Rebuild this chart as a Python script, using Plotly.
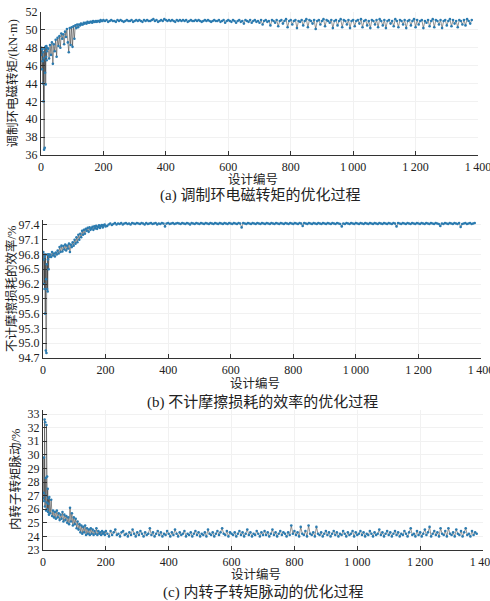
import plotly.graph_objects as go

# design numbers (sampling of the design index)
x_early = list(range(1, 21))
x_mid = list(range(23, 201, 3))
x_late = list(range(205, 1381, 5))
design_no = x_early + x_mid + x_late

# (a) modulating-ring electromagnetic torque, kN·m
torque_early = [47.2, 48.0, 45.6, 47.8, 46.5, 44.0, 47.5, 42.0, 46.8, 36.6,
                47.9, 36.8, 45.2, 48.1, 43.9, 47.0, 48.2, 46.6, 47.6, 48.0]
torque_mid = [47.9, 46.8, 48.3, 47.2, 48.6, 46.2, 48.4, 47.6, 48.9, 47.0,
              49.1, 48.2, 49.3, 48.0, 49.6, 49.0, 49.5, 48.4, 49.8, 49.2,
              50.1, 48.6, 47.5, 50.2, 48.3, 50.3, 48.1, 50.4, 49.0, 50.5,
              50.2, 50.6, 50.3, 50.6, 50.5, 50.7, 50.6, 50.6, 50.8, 50.7,
              50.8, 50.7, 50.9, 50.8, 50.8, 50.9, 50.9, 50.8, 51.0, 50.9,
              50.9, 51.0, 50.9, 51.0, 51.0, 50.9, 51.1, 51.0, 51.0, 51.1]
torque_late = [
    51.0, 51.1, 50.9, 51.0, 51.1, 51.0, 51.0, 50.9, 51.1, 51.0, 51.1, 51.0, 50.9, 51.0, 51.1, 51.0, 51.0, 51.1, 50.9, 51.0,
    51.1, 51.0, 51.1, 51.0, 50.9, 51.1, 51.0, 51.1, 51.0, 51.0, 51.1, 51.2, 51.0, 51.1, 50.9, 51.0, 51.1, 51.0, 51.2, 51.1,
    51.0, 51.1, 51.0, 51.1, 51.0, 50.9, 51.1, 51.0, 51.1, 51.0, 51.1, 51.0, 51.1, 50.9, 51.0, 51.1, 51.0, 51.0, 51.1, 51.0,
    51.1, 51.0, 50.9, 51.0, 51.1, 51.0, 51.1, 51.0, 50.9, 51.0, 51.1, 51.0, 51.0, 51.1, 50.9, 51.0, 51.1, 50.8, 51.0, 51.1,
    51.0, 50.9, 51.1, 51.0, 50.8, 51.0, 51.1, 50.9, 51.0, 50.7, 51.1, 51.0, 50.9, 51.1, 50.8, 51.0, 51.1, 50.9, 51.0, 50.8,
    51.1, 50.6, 51.0, 51.1, 50.9, 51.0, 50.5, 51.1, 51.0, 50.8, 51.1, 50.4, 51.0, 51.1, 50.7, 51.0, 51.2, 50.3, 51.0, 51.1,
    50.6, 51.0, 51.1, 50.2, 51.0, 50.9, 51.1, 50.5, 51.0, 51.2, 50.3, 51.1, 51.0, 50.7, 51.1, 50.1, 51.0, 51.1, 50.6, 51.0,
    51.2, 50.4, 51.1, 51.0, 50.8, 51.1, 50.2, 51.0, 51.1, 50.5, 51.0, 51.2, 50.3, 51.1, 51.0, 50.6, 51.1, 50.2, 51.0, 51.1,
    50.4, 51.0, 51.1, 50.7, 51.2, 50.3, 51.0, 51.1, 50.5, 51.0, 50.2, 51.1, 51.0, 50.6, 51.1, 50.3, 51.2, 51.0, 50.5, 51.1,
    50.2, 51.0, 51.1, 50.7, 51.0, 50.4, 51.2, 51.0, 50.3, 51.1, 51.0, 50.6, 51.1, 50.2, 51.0, 51.1, 50.5, 51.0, 51.2, 50.3,
    51.1, 50.6, 51.0, 51.1, 50.2, 51.0, 50.8, 51.1, 50.4, 51.0, 51.2, 50.3, 51.1, 51.0, 50.6, 51.1, 50.2, 51.0, 51.1, 50.5,
    51.0, 51.2, 50.4, 51.1, 50.7, 51.0, 50.3, 51.1, 51.0, 50.6, 51.1, 50.5, 51.2, 51.0, 50.7, 51.1]
torque = torque_early + torque_mid + torque_late

# (b) efficiency without friction loss, %
eff_early = [96.85, 96.7, 96.2, 96.8, 96.1, 96.75, 95.6, 96.8, 94.85, 96.3,
             94.8, 96.6, 96.1, 96.8, 96.05, 96.7, 96.8, 96.5, 96.8, 96.75]
eff_mid = [96.80, 96.75, 96.85, 96.78, 96.82, 96.76, 96.84, 96.80, 96.88, 96.82,
           96.95, 96.85, 96.98, 96.86, 96.97, 96.90, 97.00, 96.88, 96.98, 96.92,
           97.02, 96.85, 97.00, 96.95, 97.05, 96.98, 97.10, 97.02, 97.15, 97.05,
           97.20, 97.10, 97.22, 97.15, 97.28, 97.20, 97.30, 97.22, 97.32, 97.28,
           97.34, 97.26, 97.35, 97.30, 97.33, 97.36, 97.30, 97.37, 97.33, 97.38,
           97.32, 97.36, 97.39, 97.34, 97.38, 97.40, 97.35, 97.39, 97.41, 97.37]
eff_late = [
    97.38, 97.41, 97.43, 97.40, 97.42, 97.44, 97.41, 97.43, 97.42, 97.44, 97.41, 97.43, 97.44, 97.42, 97.43, 97.41, 97.44, 97.43, 97.42, 97.44,
    97.43, 97.42, 97.44, 97.43, 97.41, 97.44, 97.42, 97.43, 97.44, 97.42, 97.43, 97.44, 97.41, 97.43, 97.42, 97.44, 97.43, 97.37, 97.43, 97.44,
    97.42, 97.43, 97.44, 97.42, 97.43, 97.44, 97.43, 97.42, 97.44, 97.43, 97.42, 97.44, 97.43, 97.41, 97.44, 97.43, 97.42, 97.44, 97.43, 97.42,
    97.44, 97.43, 97.42, 97.44, 97.43, 97.42, 97.44, 97.43, 97.42, 97.44, 97.43, 97.42, 97.44, 97.43, 97.42, 97.44, 97.43, 97.42, 97.44, 97.43,
    97.42, 97.44, 97.43, 97.42, 97.44, 97.43, 97.35, 97.44, 97.43, 97.42, 97.44, 97.43, 97.42, 97.44, 97.43, 97.42, 97.44, 97.43, 97.42, 97.44,
    97.43, 97.42, 97.44, 97.43, 97.42, 97.44, 97.43, 97.42, 97.44, 97.43, 97.42, 97.44, 97.43, 97.42, 97.44, 97.43, 97.42, 97.44, 97.43, 97.42,
    97.44, 97.43, 97.42, 97.44, 97.43, 97.38, 97.44, 97.43, 97.42, 97.44, 97.43, 97.42, 97.44, 97.43, 97.42, 97.44, 97.43, 97.42, 97.44, 97.43,
    97.42, 97.44, 97.43, 97.42, 97.44, 97.43, 97.42, 97.44, 97.43, 97.42, 97.37, 97.43, 97.42, 97.44, 97.43, 97.42, 97.44, 97.43, 97.42, 97.44,
    97.43, 97.42, 97.44, 97.43, 97.42, 97.44, 97.43, 97.42, 97.44, 97.43, 97.42, 97.44, 97.43, 97.42, 97.44, 97.43, 97.42, 97.44, 97.43, 97.42,
    97.44, 97.43, 97.42, 97.44, 97.43, 97.37, 97.44, 97.43, 97.42, 97.44, 97.43, 97.42, 97.44, 97.43, 97.42, 97.44, 97.43, 97.42, 97.44, 97.43,
    97.42, 97.44, 97.43, 97.42, 97.44, 97.43, 97.42, 97.44, 97.43, 97.42, 97.44, 97.43, 97.42, 97.38, 97.43, 97.42, 97.44, 97.43, 97.42, 97.44,
    97.43, 97.42, 97.44, 97.43, 97.42, 97.44, 97.36, 97.42, 97.43, 97.44, 97.42, 97.43, 97.44, 97.42, 97.43, 97.44]
efficiency = eff_early + eff_mid + eff_late

# (c) inner-rotor torque ripple, %
rip_early = [26.8, 27.2, 29.8, 26.6, 32.6, 26.2, 32.4, 27.0, 28.3, 25.9,
             32.2, 26.5, 28.4, 26.0, 27.5, 25.8, 26.4, 26.8, 25.6, 26.9]
rip_mid = [25.7, 26.7, 25.5, 25.9, 25.4, 25.8, 25.3, 25.9, 25.4, 25.7,
           25.2, 25.6, 25.3, 25.8, 25.1, 25.6, 25.2, 25.5, 25.0, 25.4,
           24.9, 26.1, 25.1, 25.7, 24.8, 25.4, 24.9, 25.3, 24.6, 25.1,
           24.5, 24.9, 24.3, 24.8, 24.2, 24.7, 24.3, 24.8, 24.1, 24.6,
           24.2, 24.5, 24.1, 24.6, 24.2, 24.5, 24.1, 24.4, 24.2, 24.6,
           24.1, 24.4, 24.2, 24.3, 24.1, 24.4, 24.2, 24.3, 24.1, 24.4]
rip_late = [
    24.2, 24.0, 24.4, 24.1, 24.3, 24.5, 24.1, 24.2, 24.0, 24.3, 24.4, 24.1, 24.2, 24.0, 24.3, 24.1, 24.5, 24.2, 24.0, 24.3,
    24.1, 24.4, 24.2, 24.0, 24.3, 24.1, 24.2, 24.6, 24.1, 24.3, 24.0, 24.2, 24.4, 24.1, 24.3, 24.0, 24.2, 24.1, 24.4, 24.2,
    24.0, 24.3, 24.1, 24.5, 24.2, 24.0, 24.3, 24.1, 24.2, 24.4, 24.0, 24.2, 24.1, 24.3, 24.0, 24.2, 24.4, 24.1, 24.3, 24.0,
    24.2, 24.1, 24.3, 24.0, 24.5, 24.2, 24.1, 24.3, 24.0, 24.2, 24.4, 24.1, 24.3, 24.6, 24.2, 24.1, 24.4, 24.0, 24.3, 24.2,
    24.1, 24.3, 24.0, 24.2, 24.4, 24.1, 24.3, 24.0, 24.2, 24.5, 24.1, 24.3, 24.0, 24.2, 24.1, 24.4, 24.2, 24.0, 24.3, 24.1,
    24.4, 24.1, 24.3, 24.0, 24.2, 24.5, 24.1, 24.3, 24.0, 24.2, 24.4, 24.1, 24.3, 24.2, 24.0, 24.3, 24.1, 24.8, 24.2, 24.4,
    24.1, 24.3, 24.0, 24.7, 24.2, 24.1, 24.4, 24.0, 24.8, 24.2, 24.1, 24.3, 24.0, 24.7, 24.2, 24.1, 24.3, 24.0, 24.2, 24.4,
    24.1, 24.3, 24.0, 24.2, 24.4, 24.1, 24.3, 24.0, 24.2, 24.1, 24.4, 24.2, 24.0, 24.3, 24.1, 24.2, 24.4, 24.0, 24.3, 24.1,
    24.2, 24.4, 24.1, 24.3, 24.0, 24.2, 24.1, 24.4, 24.2, 24.0, 24.3, 24.1, 24.2, 24.5, 24.1, 24.3, 24.0, 24.2, 24.4, 24.1,
    24.3, 24.0, 24.2, 24.4, 24.1, 24.3, 24.0, 24.2, 24.1, 24.4, 24.2, 24.0, 24.3, 24.6, 24.1, 24.2, 24.0, 24.4, 24.1, 24.3,
    24.0, 24.2, 24.5, 24.1, 24.3, 24.7, 24.0, 24.2, 24.4, 24.1, 24.3, 24.0, 24.6, 24.2, 24.1, 24.4, 24.0, 24.6, 24.2, 24.1,
    24.3, 24.0, 24.5, 24.2, 24.1, 24.4, 24.0, 24.3, 24.6, 24.1, 24.2, 24.0, 24.4, 24.1, 24.3, 24.2]
ripple = rip_early + rip_mid + rip_late

x_tickvals = [0, 200, 400, 600, 800, 1000, 1200, 1400]
x_ticktext = ["0", "200", "400", "600", "800", "1\u2009000", "1\u2009200", "1\u2009400"]
torque_ticks = [36, 38, 40, 42, 44, 46, 48, 50, 52]
eff_ticks = [94.7, 95.0, 95.3, 95.6, 95.9, 96.2, 96.5, 96.8, 97.1, 97.4]
eff_ticktext = ["94.7", "95.0", "95.3", "95.6", "95.9", "96.2", "96.5", "96.8", "97.1", "97.4"]
ripple_ticks = list(range(23, 34))

y_titles = ["调制环电磁转矩/(kN·m)", "不计摩擦损耗的效率/%", "内转子转矩脉动/%"]
captions = ["(a) 调制环电磁转矩的优化过程", "(b) 不计摩擦损耗的效率的优化过程", "(c) 内转子转矩脉动的优化过程"]
x_title = "设计编号"

FONT = "Liberation Serif, Noto Sans CJK SC, serif"
W, H = 490, 601
LINE_C = "#2a2a2a"
MARK_C = "#2b7bb0"

fig = go.Figure()
series = [torque, efficiency, ripple]
for i, ys in enumerate(series):
    suffix = "" if i == 0 else str(i + 1)
    fig.add_trace(go.Scatter(
        x=design_no[:len(ys)], y=ys, mode="lines+markers",
        line=dict(color=LINE_C, width=0.5),
        marker=dict(color=MARK_C, size=2.6),
        xaxis="x" + suffix, yaxis="y" + suffix, showlegend=False))

# pixel geometry of the three panels: (left, right, top, bottom)
panels = [(41, 478, 12, 155), (43, 481, 220, 358), (43, 483, 410, 550)]
yranges = [[36, 52], [94.7, 97.5], [23, 33.3]]
yticks = [(torque_ticks, [str(t) for t in torque_ticks]),
          (eff_ticks, eff_ticktext),
          (ripple_ticks, [str(t) for t in ripple_ticks])]
title_off = [25, 25, 24]
caption_off = [41, 44, 42]
ytitle_x = [12, 11, 15]

axis_common = dict(showline=True, linecolor="#333", linewidth=1.2,
                   ticks="inside", ticklen=4, tickcolor="#333", tickwidth=1,
                   showgrid=True, gridcolor="#f1f1f1", gridwidth=1,
                   zeroline=False, mirror=False, automargin=False,
                   ticklabeloverflow="allow")

layout = dict(width=W, height=H, margin=dict(l=0, r=0, t=0, b=0, pad=0, autoexpand=False),
              paper_bgcolor="white", plot_bgcolor="white",
              font=dict(family=FONT, color="#222"), annotations=[])

for i, (l, r, t, b) in enumerate(panels):
    suffix = "" if i == 0 else str(i + 1)
    xd = [l / W, r / W]
    yd = [1 - b / H, 1 - t / H]
    layout["xaxis" + suffix] = dict(domain=xd, range=[0, 1400], anchor="y" + suffix,
                                    tickvals=x_tickvals, ticktext=x_ticktext,
                                    tickfont=dict(family=FONT, size=12, color="#222"),
                                    **axis_common)
    layout["yaxis" + suffix] = dict(domain=yd, range=yranges[i], anchor="x" + suffix,
                                    tickvals=yticks[i][0], ticktext=yticks[i][1],
                                    tickfont=dict(family=FONT, size=12, color="#222"),
                                    **axis_common)
    cx = (l + r) / 2 / W
    layout["annotations"].append(dict(
        text=x_title, x=cx - 7 / W, y=1 - (b + title_off[i]) / H, xref="paper", yref="paper",
        showarrow=False, font=dict(family=FONT, size=12.5, color="#222"),
        xanchor="center", yanchor="middle"))
    layout["annotations"].append(dict(
        text=captions[i], x=cx, y=1 - (b + caption_off[i]) / H, xref="paper", yref="paper",
        showarrow=False, font=dict(family=FONT, size=15, color="#222"),
        xanchor="center", yanchor="middle"))
    layout["annotations"].append(dict(
        text=y_titles[i], x=ytitle_x[i] / W, y=1 - (t + b) / 2 / H,
        xref="paper", yref="paper", textangle=-90, showarrow=False,
        font=dict(family=FONT, size=12.5, color="#222"),
        xanchor="center", yanchor="middle"))

fig.update_layout(**layout)
fig.write_html("out.html", config={"displayModeBar": False},
               post_script="document.body.style.margin='0';document.body.style.padding='0';")
